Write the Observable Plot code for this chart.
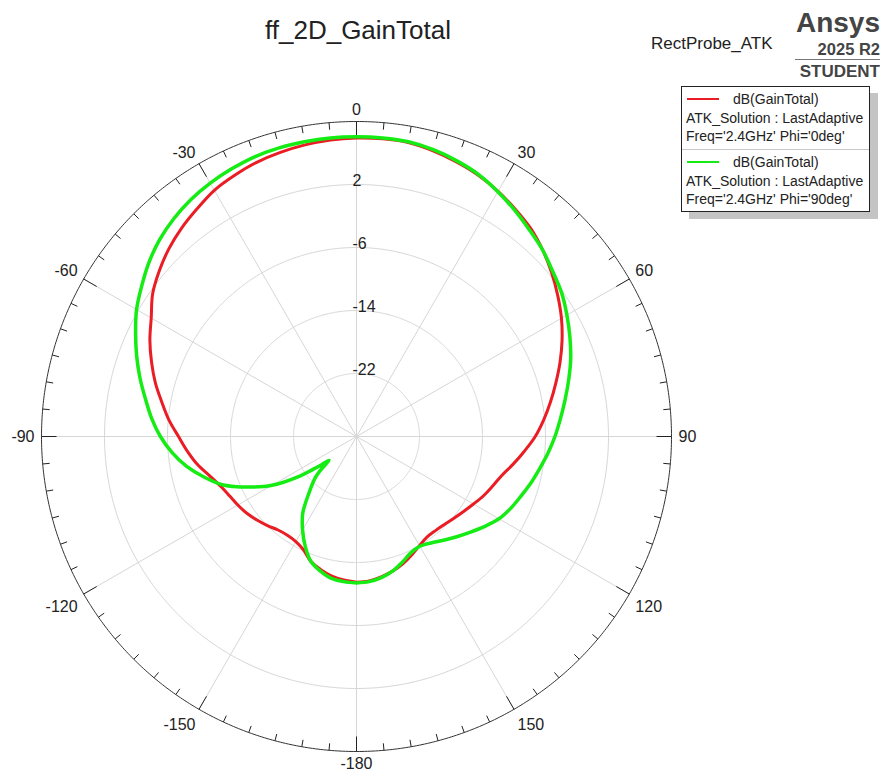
<!DOCTYPE html>
<html>
<head>
<meta charset="utf-8">
<script src="https://cdn.jsdelivr.net/npm/d3@7"></script>
<script src="https://cdn.jsdelivr.net/npm/@observablehq/plot@0.6"></script>
<style>
  html, body { margin: 0; padding: 0; background: #fff; }
  #wrap { position: relative; width: 880px; height: 772px; overflow: hidden; background: #fff;
          font-family: Arial, "Liberation Sans", sans-serif; color: #222; }
  #chart { position: absolute; left: 0; top: 0; }
  .t { position: absolute; white-space: nowrap; line-height: 1; }
</style>
</head>
<body>
<div id="wrap">
  <div id="chart"></div>
  <div class="t" style="left:0;width:716px;top:17px;text-align:center;font-size:26px;">ff_2D_GainTotal</div>
  <div class="t" style="left:651px;top:35px;font-size:17px;">RectProbe_ATK</div>
  <div class="t" style="right:0;top:9px;font-size:28px;font-weight:bold;color:#444;">Ansys</div>
  <div class="t" style="right:0;top:41px;font-size:16.5px;font-weight:bold;color:#444;">2025 R2</div>
  <div style="position:absolute;left:795px;width:85px;top:59px;height:0;border-top:1px solid #777;"></div>
  <div class="t" style="right:0;top:63px;font-size:17px;font-weight:bold;color:#444;">STUDENT</div>
  <div id="legend" style="position:absolute;left:681px;top:86px;width:187px;height:124px;border:1px solid #222;background:#fff;box-shadow:8px 7px 0 #c4c4c4;"></div>
</div>
<script>
// ---- data ----
const redTheta = [-180,-175,-170,-165,-160,-155,-150,-145,-140,-135,-130,-125,-120,-115,-110,-105,-100,-95,-90,-85,-80,-75,-70,-65,-60,-55,-50,-45,-40,-35,-30,-25,-20,-15,-10,-5,0,5,10,15,20,25,30,35,40,45,50,55,60,65,70,75,80,85,90,95,100,105,110,115,120,125,130,135,140,145,150,155,160,165,170,175,180];
const redDb = [-11.5,-11.7,-12.0,-12.5,-13.1,-14.1,-14.6,-14.7,-14.5,-14.0,-13.5,-13.0,-12.6,-12.2,-11.6,-10.7,-9.5,-8.45,-7.4,-6.1,-4.9,-3.55,-2.3,-1.05,0.1,1.6,2.7,3.7,4.55,5.3,6.1,6.6,7.05,7.35,7.6,7.8,7.9,7.95,7.9,7.55,7.1,6.6,5.95,5.2,4.45,3.45,2.35,1.2,0.05,-1.2,-2.5,-3.8,-5.0,-6.15,-7.3,-8.6,-9.8,-10.9,-11.6,-12.2,-12.85,-13.4,-13.85,-14.2,-14.4,-14.4,-14.0,-13.4,-12.8,-12.3,-11.9,-11.6,-11.5];

const greenTheta = [-180,-175,-170,-165,-160,-155,-150,-145,-140,-135,-133,-131,-129,-127,-125,-120,-115,-110,-105,-100,-95,-90,-85,-80,-75,-70,-65,-60,-55,-50,-45,-40,-35,-30,-25,-20,-15,-10,-5,0,5,10,15,20,25,30,35,40,45,50,55,60,65,70,75,80,85,90,95,100,105,110,115,120,125,130,135,140,145,150,155,160,165,170,175,180];
const greenDb = [-11.4,-11.5,-11.7,-12.3,-13.1,-14.6,-16.3,-18.1,-20.6,-22.6,-23.8,-25.4,-24.3,-23.0,-21.3,-17.6,-14.8,-12.0,-10.0,-8.1,-6.5,-5.1,-3.9,-2.8,-1.55,-0.3,0.95,2.25,3.3,4.4,5.35,6.1,6.7,7.15,7.5,7.8,7.95,8.0,8.05,8.05,8.05,8.0,7.7,7.25,6.7,5.9,5.05,4.2,3.45,2.55,1.8,0.85,-0.1,-1.05,-2.1,-3.1,-4.0,-4.8,-5.6,-6.4,-7.1,-7.8,-8.4,-9.1,-10.1,-11.1,-12.0,-12.8,-13.5,-13.9,-13.7,-13.0,-12.3,-11.8,-11.5,-11.4];

const angleLabels = [0, 30, 60, 90, 120, 150, -180, -150, -120, -90, -60, -30];
const tickAngles = d3.range(-180, 180, 5);
const ringDb = [-22, -14, -6, 2];
const dbMin = -30, dbMax = 10;

const redColor = "#ea1c24";
const greenColor = "#14ec14";

// ---- polar helpers (longitude = angle, latitude = radius) ----
const PX_PER_DB = 315 / (dbMax - dbMin);
const lon = (theta) => 180 - theta;
const lat = (db) => 90 - (db - dbMin);
const ring = (db) => d3.geoCircle().center([0, 90]).radius(db - dbMin).precision(0.5)();

const red = redTheta.map((t, i) => ({theta: t, db: redDb[i]}));
const green = greenTheta.map((t, i) => ({theta: t, db: greenDb[i]}));

// angle labels: anchored outside the circle, on the side facing away from it
const hSide = (a) => Math.abs(Math.sin(a * Math.PI / 180)) < 1e-6 ? "middle" : (Math.sin(a * Math.PI / 180) > 0 ? "start" : "end");
const vSide = (a) => Math.abs(Math.cos(a * Math.PI / 180)) < 1e-6 ? "middle" : (Math.cos(a * Math.PI / 180) > 0 ? "bottom" : "top");
const labelMarks = [];
for (const h of ["start", "middle", "end"]) {
  for (const v of ["top", "middle", "bottom"]) {
    const sub = angleLabels.filter((a) => hSide(a) === h && vSide(a) === v);
    if (!sub.length) continue;
    labelMarks.push(Plot.text(sub, {
      x: (a) => lon(a), y: lat(dbMax) - 7 / PX_PER_DB,
      text: (a) => String(a), textAnchor: h, lineAnchor: v,
      dy: v === "top" ? (h === "middle" ? -1 : 3) : 0,
      fill: "#222", fontSize: 16
    }));
  }
}

const chart = Plot.plot({
  width: 880,
  height: 772,
  margin: 0,
  projection: {
    type: "azimuthal-equidistant",
    rotate: [0, -90],
    domain: ring(dbMax),
    clip: false,
    insetLeft: 41,
    insetRight: 209,
    insetTop: 121,
    insetBottom: 21
  },
  style: {fontFamily: "Arial, 'Liberation Sans', sans-serif", fontSize: "16px", background: "transparent", overflow: "visible", color: "#222"},
  marks: [
    Plot.geo(ringDb, {geometry: (d) => ring(d), fill: "none", stroke: "#d6d6d6", strokeWidth: 1}),
    Plot.link(angleLabels, {x1: (a) => lon(a), y1: lat(dbMin), x2: (a) => lon(a), y2: lat(dbMax), stroke: "#d6d6d6", strokeWidth: 1}),
    Plot.geo([dbMax], {geometry: (d) => ring(d), fill: "none", stroke: "#333", strokeWidth: 1}),
    Plot.link(tickAngles, {
      x1: (a) => lon(a), y1: lat(dbMax),
      x2: (a) => lon(a), y2: (a) => lat(dbMax) + (a % 30 === 0 ? 15 : 7) / PX_PER_DB,
      stroke: "#222", strokeWidth: 1
    }),
    ...labelMarks,
    Plot.text(ringDb, {x: lon(0), y: (d) => lat(d), text: (d) => String(d), textAnchor: "start", lineAnchor: "bottom", dx: -4, dy: 1, fill: "#222", fontSize: 16}),
    Plot.line(red, {x: (d) => lon(d.theta), y: (d) => lat(d.db), stroke: redColor, strokeWidth: 3, curve: "catmull-rom"}),
    Plot.line(green, {x: (d) => lon(d.theta), y: (d) => lat(d.db), stroke: greenColor, strokeWidth: 3.5, curve: "catmull-rom"})
  ]
});
document.getElementById("chart").appendChild(chart);

// ---- legend (HTML) ----
const legendItems = [
  {color: redColor, lines: ["dB(GainTotal)", "ATK_Solution : LastAdaptive", "Freq='2.4GHz' Phi='0deg'"]},
  {color: greenColor, lines: ["dB(GainTotal)", "ATK_Solution : LastAdaptive", "Freq='2.4GHz' Phi='90deg'"]}
];
const legend = document.getElementById("legend");
legendItems.forEach((item, k) => {
  const top0 = k * 63;
  if (k > 0) {
    const sep = document.createElement("div");
    sep.style.cssText = `position:absolute;left:0;width:187px;top:${top0 - 1}px;border-top:1px solid #c8c8c8;`;
    legend.appendChild(sep);
  }
  const sw = document.createElement("div");
  sw.style.cssText = `position:absolute;left:5px;width:32px;top:${top0 + 11}px;height:2px;background:${item.color};`;
  legend.appendChild(sw);
  item.lines.forEach((txt, j) => {
    const d = document.createElement("div");
    d.className = "t";
    d.textContent = txt;
    d.style.cssText += `font-size:14px;left:${j === 0 ? 51 : 4}px;top:${top0 + 5 + j * 18.5}px;`;
    legend.appendChild(d);
  });
});
</script>
</body>
</html>
